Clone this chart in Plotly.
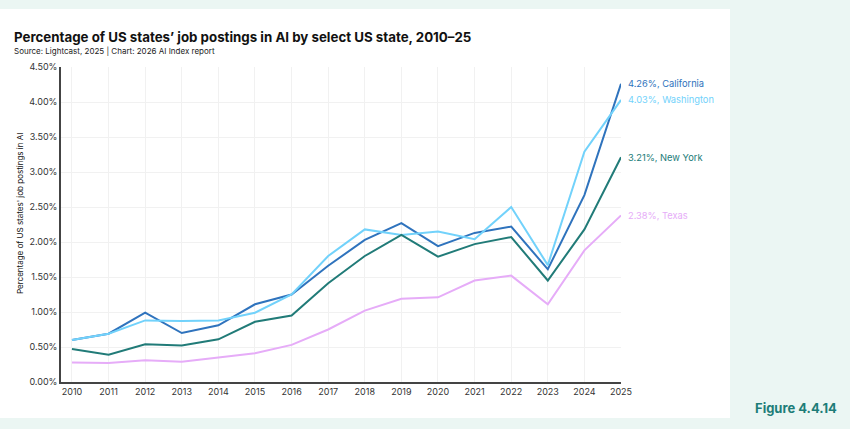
import plotly.graph_objects as go

years = list(range(2010, 2026))
california = [0.60, 0.69, 0.99, 0.70, 0.81, 1.11, 1.25, 1.66, 2.03, 2.27, 1.94, 2.13, 2.22, 1.61, 2.67, 4.26]
washington = [0.60, 0.69, 0.88, 0.87, 0.88, 0.99, 1.25, 1.80, 2.18, 2.10, 2.15, 2.04, 2.50, 1.67, 3.29, 4.03]
new_york   = [0.47, 0.39, 0.54, 0.52, 0.61, 0.86, 0.95, 1.41, 1.80, 2.10, 1.79, 1.97, 2.07, 1.45, 2.18, 3.21]
texas      = [0.28, 0.27, 0.31, 0.29, 0.35, 0.41, 0.53, 0.75, 1.02, 1.19, 1.21, 1.45, 1.52, 1.11, 1.88, 2.38]

series = [
    ("California", california, "#2f73bd"),
    ("Washington", washington, "#72d2fb"),
    ("New York", new_york, "#217b78"),
    ("Texas", texas, "#e6acf8"),
]
y_ticks = [0, 0.5, 1.0, 1.5, 2.0, 2.5, 3.0, 3.5, 4.0, 4.5]
y_tick_text = [f"{v:.2f}%" for v in y_ticks]

FONT = "Inter"
PW, PH = 560, 315  # plot area size in px
fig = go.Figure()
for name, vals, col in series:
    fig.add_trace(go.Scatter(x=years, y=vals, mode="lines", name=name,
                             line=dict(color=col, width=2), showlegend=False,
                             hoverinfo="skip"))
    fig.add_annotation(x=years[-1], y=vals[-1], xref="x", yref="y",
                       text=f"{vals[-1]:.2f}%, {name}", showarrow=False,
                       xanchor="left", yanchor="middle", xshift=5,
                       font=dict(family=FONT, size=9.3, color=col))

fig.add_shape(type="rect", xref="paper", yref="paper", layer="below",
              x0=-61/PW, x1=(730-61)/PW, y0=-(418-382)/PH, y1=(382-9)/PH,
              fillcolor="white", line=dict(width=0))

fig.add_annotation(xref="paper", yref="paper", x=-(61-12)/PW, y=(382-37)/PH,
                   xanchor="left", yanchor="middle", showarrow=False,
                   text="<b>Percentage of US states’ job postings in AI by select US state, 2010–25</b>",
                   font=dict(family=FONT, size=13.3, color="#111111"))
fig.add_annotation(xref="paper", yref="paper", x=-(61-12)/PW, y=(382-51)/PH,
                   xanchor="left", yanchor="middle", showarrow=False,
                   text="Source: Lightcast, 2025 | Chart: 2026 AI Index report",
                   font=dict(family=FONT, size=8, color="#222222"))
fig.add_annotation(xref="paper", yref="paper", x=-(61-20)/PW, y=(382-214)/PH,
                   xanchor="center", yanchor="middle", showarrow=False, textangle=-90,
                   text="Percentage of US states' job postings in AI",
                   font=dict(family=FONT, size=8, color="#111111"))
fig.add_annotation(xref="paper", yref="paper", x=(796-61)/PW, y=(382-408)/PH,
                   xanchor="center", yanchor="middle", showarrow=False,
                   text="<b>Figure 4.4.14</b>",
                   font=dict(family=FONT, size=13, color="#1d7d78"))

fig.update_layout(
    width=850, height=429,
    margin=dict(l=61, r=229, t=67, b=47),
    paper_bgcolor="#ebf6f3", plot_bgcolor="white",
    font=dict(family=FONT, color="#333333"),
    xaxis=dict(range=[2009.7, 2025], tickvals=years, ticktext=[str(y) for y in years],
               showgrid=True, gridcolor="#f1f1f1", gridwidth=1,
               showline=True, linecolor="#444444", linewidth=1.5,
               ticks="", tickfont=dict(size=9, color="#333333"), zeroline=False),
    yaxis=dict(range=[0, 4.5], tickvals=y_ticks, ticktext=y_tick_text,
               showgrid=True, gridcolor="#f1f1f1", gridwidth=1,
               showline=True, linecolor="#444444", linewidth=1.5,
               ticks="", tickfont=dict(size=9, color="#333333"), zeroline=False),
)

fig.write_html("out.html")
